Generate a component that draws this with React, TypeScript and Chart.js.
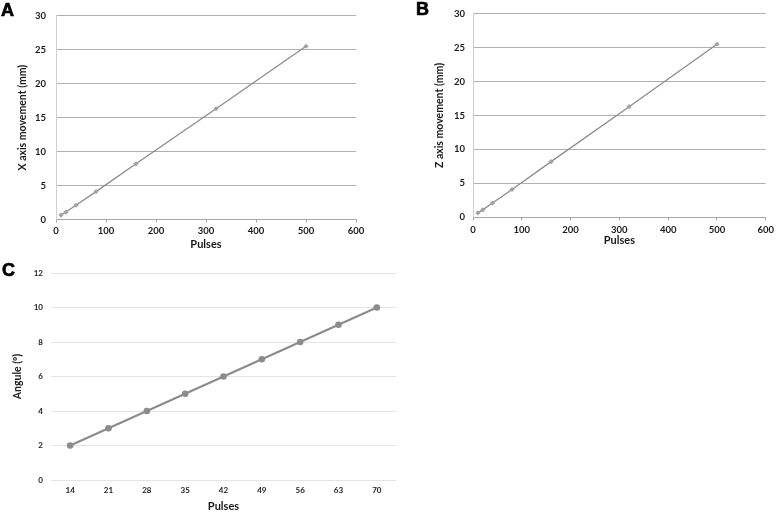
import React, { useEffect, useRef } from "react";
import { Chart, registerables } from "chart.js";

Chart.register(...registerables);

const pulsesAB = [10, 20, 40, 80, 160, 320, 500];
const xMovement = [0.65, 1.1, 2.1, 4.1, 8.2, 16.3, 25.5];
const zMovement = [0.65, 1.1, 2.1, 4.1, 8.2, 16.3, 25.5];
const pulsesC = ["14", "21", "28", "35", "42", "49", "56", "63", "70"];
const angle = [2, 3, 4, 5, 6, 7, 8, 9, 10];

const FONT = "Lato, 'Open Sans', sans-serif";
const TXT = "#1a1a1a";

type Geo = {
  yWidth: number;
  xHeight: number;
  padTop: number;
  padRight: number;
  yTitlePad: number;
  yTickPad: number;
  xTickPad: number;
  xTitlePad: number;
};

function scatterConfig(xs: number[], ys: number[], yTitle: string, g: Geo): any {
  return {
    type: "scatter",
    data: {
      datasets: [
        {
          data: xs.map((x, i) => ({ x, y: ys[i] })),
          showLine: true,
          borderColor: "#8c8c8c",
          borderWidth: 1.3,
          pointStyle: "rectRot",
          pointRadius: 2.6,
          pointBackgroundColor: "#a3a3a3",
          pointBorderColor: "#a3a3a3",
          pointBorderWidth: 0,
        },
      ],
    },
    options: {
      responsive: false,
      animation: false,
      layout: { padding: { top: g.padTop, right: g.padRight, left: 0, bottom: 0 } },
      plugins: { legend: { display: false }, tooltip: { enabled: false } },
      scales: {
        x: {
          type: "linear",
          min: 0,
          max: 600,
          afterFit: (s: any) => {
            s.height = g.xHeight;
          },
          ticks: { stepSize: 100, color: TXT, padding: g.xTickPad - 3, font: { family: FONT, size: 9.5, weight: "bold" } },
          grid: { display: true, drawOnChartArea: false, drawTicks: true, tickLength: 3, color: "#a6a6a6" },
          border: { display: true, color: "#a6a6a6", width: 1 },
          title: {
            display: true,
            text: "Pulses",
            color: TXT,
            font: { family: FONT, size: 11, weight: "bold", lineHeight: 1.15 },
            padding: { top: 0, bottom: g.xTitlePad },
          },
        },
        y: {
          type: "linear",
          min: 0,
          max: 30,
          afterFit: (s: any) => {
            s.width = g.yWidth;
          },
          ticks: { stepSize: 5, color: TXT, padding: g.yTickPad, font: { family: FONT, size: 9.5, weight: "bold" } },
          grid: { color: "#b0b0b0", lineWidth: 1, drawTicks: false },
          border: { display: true, color: "#cfcfcf", width: 1 },
          title: {
            display: true,
            text: yTitle,
            color: TXT,
            font: { family: FONT, size: 10.5, weight: "bold", lineHeight: 1.15 },
            padding: { top: g.yTitlePad, bottom: 0 },
          },
        },
      },
    },
  };
}

function angleConfig(): any {
  return {
    type: "line",
    data: {
      labels: pulsesC,
      datasets: [
        {
          data: angle,
          borderColor: "#8c8c8c",
          borderWidth: 2.2,
          pointStyle: "circle",
          pointRadius: 3.3,
          pointBackgroundColor: "#8c8c8c",
          pointBorderColor: "#8c8c8c",
          pointBorderWidth: 0,
        },
      ],
    },
    options: {
      responsive: false,
      animation: false,
      layout: { padding: { top: 18, right: 3, left: 0, bottom: 0 } },
      plugins: { legend: { display: false }, tooltip: { enabled: false } },
      scales: {
        x: {
          type: "category",
          offset: true,
          afterFit: (s: any) => {
            s.height = 32;
          },
          ticks: { color: TXT, padding: 6, font: { family: FONT, size: 8, weight: "bold" } },
          grid: { display: false, drawTicks: false, offset: true },
          border: { display: false },
          title: {
            display: true,
            text: "Pulses",
            color: TXT,
            font: { family: FONT, size: 11, weight: "bold", lineHeight: 1.0 },
            padding: { top: 0, bottom: 0 },
          },
        },
        y: {
          type: "linear",
          min: 0,
          max: 12,
          afterFit: (s: any) => {
            s.width = 51;
          },
          ticks: { stepSize: 2, color: TXT, padding: 8, font: { family: FONT, size: 8, weight: "bold" } },
          grid: { color: "#e4e4e4", lineWidth: 1, drawTicks: false },
          border: { display: false },
          title: {
            display: true,
            text: "Angule (º)",
            color: TXT,
            font: { family: FONT, size: 10.5, weight: "bold", lineHeight: 1.15 },
            padding: { top: 12, bottom: 0 },
          },
        },
      },
    },
  };
}

function ChartCanvas(props: { cfg: () => any; left: number; top: number; width: number; height: number }) {
  const ref = useRef<HTMLCanvasElement | null>(null);
  useEffect(() => {
    if (!ref.current) return;
    const c = new Chart(ref.current, props.cfg());
    return () => c.destroy();
  }, []);
  return (
    <canvas
      ref={ref}
      width={props.width}
      height={props.height}
      style={{ position: "absolute", left: props.left, top: props.top, width: props.width, height: props.height }}
    />
  );
}

const letterStyle: React.CSSProperties = {
  position: "absolute",
  fontFamily: "'Liberation Sans', Arial, sans-serif",
  fontWeight: "bold",
  fontSize: 18,
  lineHeight: "18px",
  color: "#000",
  WebkitTextStroke: "0.7px #000",
};

export default function App() {
  return (
    <div style={{ position: "fixed", left: 0, top: 0, width: 778, height: 512, background: "#fff", overflow: "hidden" }}>
      <ChartCanvas
        cfg={() =>
          scatterConfig(pulsesAB, xMovement, "X axis movement (mm)", {
            yWidth: 56,
            xHeight: 32.5,
            padTop: 9,
            padRight: 14,
            yTitlePad: 17,
            yTickPad: 10,
            xTickPad: 6,
            xTitlePad: 1,
          })
        }
        left={0}
        top={0}
        width={370}
        height={252}
      />
      <ChartCanvas
        cfg={() =>
          scatterConfig(pulsesAB, zMovement, "Z axis movement (mm)", {
            yWidth: 73,
            xHeight: 32.7,
            padTop: 8,
            padRight: 8,
            yTitlePad: 34,
            yTickPad: 8,
            xTickPad: 7,
            xTitlePad: 3,
          })
        }
        left={400}
        top={0}
        width={378}
        height={250}
      />
      <ChartCanvas cfg={angleConfig} left={0} top={255} width={400} height={257} />
      <div style={{ ...letterStyle, left: 1, top: 1 }}>A</div>
      <div style={{ ...letterStyle, left: 416, top: 0 }}>B</div>
      <div style={{ ...letterStyle, left: 2, top: 261 }}>C</div>
    </div>
  );
}
